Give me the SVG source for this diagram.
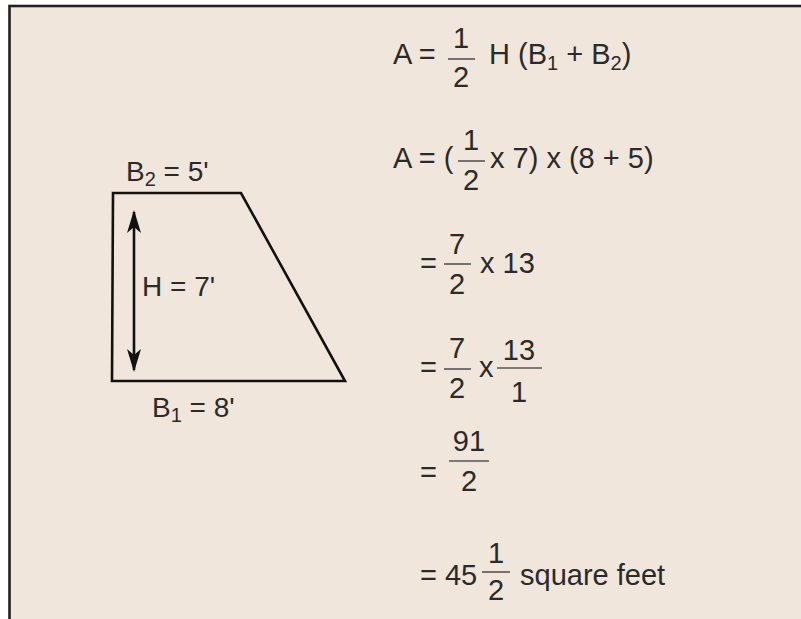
<svg xmlns="http://www.w3.org/2000/svg" width="801" height="619" viewBox="0 0 801 619">
<style>
text{font-family:"Liberation Sans",Arial,sans-serif;font-size:29px;fill:#2a2a2a}
.lbl{font-size:28px}
.sub{font-size:20px}
.mid{text-anchor:middle}
.bar{stroke:#555;stroke-width:1.6}
.shape{fill:none;stroke:#111;stroke-width:2.6;stroke-linejoin:miter}
</style>
<defs>
<marker id="ah" viewBox="0 0 24 16" refX="22" refY="8" markerWidth="24" markerHeight="16" markerUnits="userSpaceOnUse" orient="auto-start-reverse">
<path d="M24,8 L1,1 L7,8 L1,15 Z" fill="#111"/>
</marker>
</defs>
<rect width="801" height="619" fill="#ffffff"/>
<rect x="9.5" y="6" width="900" height="700" fill="#f1e6dc" stroke="#222" stroke-width="2.6"/>

<g id="trapezoid">
<path class="shape" d="M113,193 L241,193 L345,381 L112,381 Z"/>
<text class="lbl" x="126" y="181">B<tspan class="sub" dy="5">2</tspan><tspan dy="-5"> = 5'</tspan></text>
<text class="lbl" x="142" y="296">H = 7'</text>
<text class="lbl" x="152" y="417">B<tspan class="sub" dy="5">1</tspan><tspan dy="-5"> = 8'</tspan></text>
</g>

<g id="connectors">
<line x1="134" y1="212" x2="134" y2="370" stroke="#111" stroke-width="2.6" marker-start="url(#ah)" marker-end="url(#ah)"/>
</g>

<g id="eq1">
<text x="393" y="64">A =</text>
<text class="mid" x="461" y="48">1</text>
<line class="bar" x1="448" y1="59" x2="475" y2="59"/>
<text class="mid" x="461" y="87">2</text>
<text x="489" y="64">H (B<tspan class="sub" dy="6">1</tspan><tspan dy="-6"> + B</tspan><tspan class="sub" dy="6">2</tspan><tspan dy="-6">)</tspan></text>
</g>

<g id="eq2">
<text x="393" y="168">A = (</text>
<text class="mid" x="471" y="150">1</text>
<line class="bar" x1="458" y1="161" x2="485" y2="161"/>
<text class="mid" x="471" y="190">2</text>
<text x="490" y="168">x 7) x (8 + 5)</text>
</g>

<g id="eq3">
<text x="420" y="273">=</text>
<text class="mid" x="457" y="254">7</text>
<line class="bar" x1="444" y1="264" x2="471" y2="264"/>
<text class="mid" x="457" y="294">2</text>
<text x="480" y="273">x 13</text>
</g>

<g id="eq4">
<text x="420" y="377">=</text>
<text class="mid" x="457" y="358">7</text>
<line class="bar" x1="444" y1="369" x2="471" y2="369"/>
<text class="mid" x="457" y="398">2</text>
<text x="479" y="377">x</text>
<text class="mid" x="519" y="360">13</text>
<line class="bar" x1="497" y1="368" x2="542" y2="368"/>
<text class="mid" x="519" y="402">1</text>
</g>

<g id="eq5">
<text x="420" y="482">=</text>
<text class="mid" x="469" y="451">91</text>
<line class="bar" x1="449" y1="461" x2="489" y2="461"/>
<text class="mid" x="469" y="491">2</text>
</g>

<g id="eq6">
<text x="420" y="585">= 45</text>
<text class="mid" x="496" y="563">1</text>
<line class="bar" x1="482" y1="572" x2="510" y2="572"/>
<text class="mid" x="496" y="600">2</text>
<text x="520" y="585">square feet</text>
</g>
</svg>
